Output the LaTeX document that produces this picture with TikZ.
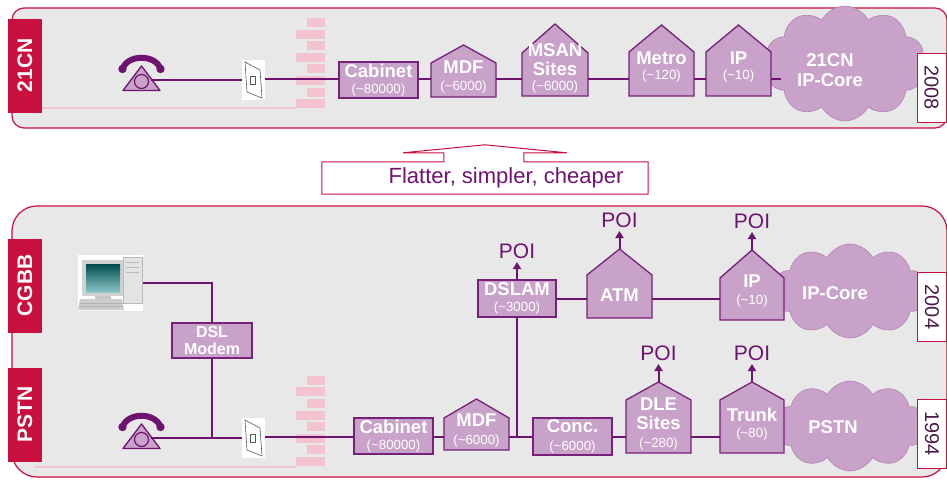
\documentclass[tikz,border=0pt]{standalone}
\usepackage{fontspec}
\setmainfont{Liberation Sans}
\usetikzlibrary{arrows.meta,positioning,calc,shapes.symbols}
\definecolor{crimson}{HTML}{C8103E}
\definecolor{panelgray}{HTML}{E8E8E8}
\definecolor{lilac}{HTML}{C8A2C8}
\definecolor{plum}{HTML}{76207A}
\definecolor{wireplum}{HTML}{6E1470}
\definecolor{brick}{HTML}{F3C3CF}
\definecolor{yearink}{HTML}{4A1A4A}
\tikzset{
  panel/.style={draw=crimson, line width=1.2pt, fill=panelgray},
  era/.style={fill=crimson, text=white, rotate=90, inner sep=0pt,
    minimum width=94pt, minimum height=34pt, font=\fontsize{21}{21}\selectfont\bfseries},
  year/.style={draw=crimson, fill=white, line width=1pt, rotate=-90, inner sep=0pt,
    minimum width=69pt, minimum height=29pt, text=yearink, font=\fontsize{20}{20}\selectfont},
  box/.style={draw=plum, fill=lilac, line width=1.3pt, text=white, align=center,
    inner sep=0pt, outer sep=0pt, font=\fontsize{18.5}{19}\selectfont\bfseries},
  body/.style={inner sep=0pt, outer sep=0pt},
  shell/.style={draw=plum, fill=lilac, line width=1.3pt},
  tag/.style={text=white, align=center, inner sep=0pt,
    font=\fontsize{18.5}{19}\selectfont\bfseries},
  core/.style={cloud, cloud puffs=10, cloud puff arc=125, fill=lilac,
    draw=lilac!75!plum, line width=0.6pt, inner sep=0pt},
  wire/.style={draw=wireplum, line width=1.5pt},
  poi/.style={-{Triangle[length=7pt,width=8pt]}, draw=wireplum, line width=2pt},
  poitext/.style={text=wireplum, inner sep=0pt, font=\fontsize{21}{21}\selectfont},
  seam/.style={draw=brick, line width=1.5pt},
  jack/.style={fill=white, minimum width=23pt, minimum height=40pt, inner sep=0pt,
    path picture={
      \draw[gray!70!black, line width=0.6pt]
        ([shift={(3pt,-2pt)}]path picture bounding box.north west)
        -- ([shift={(-5pt,-10pt)}]path picture bounding box.north east)
        -- ([shift={(-3pt,2pt)}]path picture bounding box.south east)
        -- ([shift={(5pt,8pt)}]path picture bounding box.south west) -- cycle;
      \draw[gray!70!black, line width=0.5pt]
        ([shift={(-3pt,-4pt)}]path picture bounding box.center)
        rectangle ([shift={(2pt,4pt)}]path picture bounding box.center);
    }},
  phone/.pic={
    \draw[wireplum, line width=6pt, line cap=round]
      (-19,13) .. controls (-14,-2) and (14,-2) .. (19,13);
    \fill[wireplum] (-19,13) circle[radius=4.2pt] (19,13) circle[radius=4.2pt];
    \filldraw[fill=lilac, draw=wireplum, line width=1.3pt, line join=round]
      (0,10) -- (18.5,34.5) -- (-18.5,34.5) -- cycle;
    \draw[wireplum, line width=1.2pt] (0,25.5) circle[radius=7pt];
    \coordinate (-out) at (9,24);
  },
  wall/.pic={
    \foreach \r in {0,...,7}{
      \ifodd\r \fill[brick] (0,\r*11.6) rectangle (29,\r*11.6+9);
      \else \fill[brick] (11,\r*11.6) rectangle (29,\r*11.6+9); \fi
    }
  },
  desktop/.pic={
    \fill[white] (0,0) rectangle (65,56);
    \fill[gray!22] (45,2) rectangle (64,48);
    \draw[gray!55, line width=0.4pt] (45,2) rectangle (64,48)
      (48,7) -- (61,7) (48,12) -- (61,12) (48,17) -- (61,17);
    \fill[gray!35] (4,5) rectangle (45,41);
    \shade[top color=teal!60!black, bottom color=teal!45!white] (8,9) rectangle (42,37);
    \fill[gray!45] (17,41) rectangle (33,45);
    \fill[gray!40] (2,44) -- (44,44) -- (46,55) -- (0,55) -- cycle;
    \draw[gray!60, line width=0.3pt] (2,48) -- (45,48) (1,51) -- (45,51);
  },
}
\newcommand{\tally}[1]{{\fontsize{13.3}{14}\selectfont\mdseries(\textasciitilde#1)}}
% name, body centre, width, height, roof, text lift, text
\newcommand{\house}[7]{%
  \node[body, minimum width=#3pt, minimum height=#4pt] (#1) at (#2) {};
  \coordinate (#1-peak) at ([yshift=#5pt]#1.north);
  \draw[shell] (#1.south west) -- (#1.north west) -- (#1-peak)
    -- (#1.north east) -- (#1.south east) -- cycle;
  \node[tag] (#1-tag) at ([yshift=#6pt]#1.center) {#7};
}

\begin{document}
\begin{tikzpicture}[x=1pt, y=-1pt]
  \useasboundingbox (0,0) rectangle (947,479);

  % the two network panels
  \draw[panel, rounded corners=12pt] (12,8) rectangle (947,128);
  \draw[panel, rounded corners=25pt] (12,206) rectangle (947,477);
  \draw[seam] (42,108) -- (296,108);
  \draw[seam] (35,467) -- (296,467);
  \pic at (296,18) {wall};
  \pic at (296,375.7) {wall};

  \node[era] (lab21) at (25,65.5) {21CN};
  \node[era] (labcgbb) at (25,285.5) {CGBB};
  \node[era] (labpstn) at (25,414.5) {PSTN};

  % 21CN
  \pic (ph1) at (141.5,56) {phone};
  \node[jack] (jack1) at (253.5,80) {};
  \node[box, minimum width=79pt, minimum height=36pt] (cab1) at (378.5,80)
    {Cabinet\\[-3pt]\tally{80000}};
  \node[core, minimum width=160pt, minimum height=115pt] (core1) at (845,63.5) {};
  \node[tag] (core1-tag) at ([shift={(-15pt,-6.5pt)}]core1.center) {21CN\\[1pt]IP-Core};
  \house{mdf1}{463.5,80}{65}{34}{18}{3}{MDF\\[-2pt]\tally{6000}}
  \house{msan}{555,74.5}{66}{43}{29}{6.5}{MSAN\\Sites\\[-4pt]\tally{6000}}
  \house{metro}{661.5,74}{65}{44}{27}{7}{Metro\\[-4pt]\tally{120}}
  \house{ip1}{738.5,74}{65}{44}{27}{7}{IP\\[-4pt]\tally{10}}
  \node[year] (yr08) at (931.5,87.5) {2008};

  \coordinate (row1) at (0,79);
  \coordinate (spur) at (781,79);
  \draw[wire] (ph1-out) -- (jack1.west |- ph1-out);
  \draw[wire] (jack1.east |- row1) -- (cab1.west |- row1);
  \foreach \a/\b in {cab1/mdf1, mdf1/msan, msan/metro, metro/ip1}
    \draw[wire] (\a.east |- row1) -- (\b.west |- row1);
  \draw[wire] (ip1.east |- row1) -- (spur);

  % flatter, simpler, cheaper
  \node[text=wireplum, font=\fontsize{22}{22}\selectfont, inner sep=0pt,
    minimum width=326pt, minimum height=32pt] (gain) at (485,178)
    {\hspace*{42pt}Flatter, simpler, cheaper};
  \draw[crimson, line width=1pt] (gain.north west) -- ++(122,0) -- ++(0,-9)
    -- ++(-41,0) -- ++(82,-8) -- ++(82,8) -- ++(-43,0) -- ++(0,9)
    -| (gain.south east) -| (gain.north west);

  % CGBB and PSTN
  \pic at (78,255) {desktop};
  \node[body, minimum width=65pt, minimum height=56pt] (pc) at (110.5,283) {};
  \node[box, minimum width=80pt, minimum height=35pt,
    font=\fontsize{16}{17}\selectfont\bfseries] (modem) at (212,340.5) {DSL\\Modem};
  \pic (ph2) at (141.5,414) {phone};
  \node[jack] (jack2) at (253.5,438) {};
  \node[box, minimum width=79pt, minimum height=36pt] (cab2) at (393.5,436)
    {Cabinet\\[-3pt]\tally{80000}};
  \node[box, minimum width=79pt, minimum height=37pt] (conc) at (572.5,436.5)
    {Conc.\\[-1pt]\tally{6000}};
  \node[box, minimum width=78pt, minimum height=37pt] (dslam) at (517,298.5)
    {DSLAM\\[-3pt]\tally{3000}};
  \coordinate (dslam-peak) at (dslam.north);
  \node[core, minimum width=154pt, minimum height=94pt] (core2) at (850,291) {};
  \node[tag] (core2-tag) at ([shift={(-15pt,-2pt)}]core2.center) {IP-Core};
  \node[core, minimum width=151pt, minimum height=90pt] (core3) at (850,426) {};
  \node[tag] (core3-tag) at ([shift={(-17pt,-1pt)}]core3.center) {PSTN};
  \house{mdf2}{476.5,434}{65}{32}{19}{3}{MDF\\[-1pt]\tally{6000}}
  \house{atm}{619.5,296.5}{65}{43}{26}{1.5}{ATM}
  \house{ip2}{752,299}{64}{42}{28}{8}{IP\\[-2pt]\tally{10}}
  \house{dle}{658.5,426.5}{65}{53}{18}{2.5}{DLE\\Sites\\[-1pt]\tally{280}}
  \house{trunk}{752,426.5}{64}{53}{18}{2.5}{Trunk\\[-3pt]\tally{80}}
  \node[year] (yr04) at (932,307) {2004};
  \node[year] (yr94) at (932,433.5) {1994};

  \coordinate (row2) at (0,299);
  \coordinate (row3) at (0,437);
  \draw[wire] (pc.east) -| (modem.north);
  \draw[wire] (modem.south) -- (modem.south |- row3);
  \draw[wire] (ph2-out) -- (jack2.west |- ph2-out);
  \foreach \a/\b in {jack2/cab2, cab2/mdf2, mdf2/conc, conc/dle, dle/trunk}
    \draw[wire] (\a.east |- row3) -- (\b.west |- row3);
  \foreach \a/\b in {dslam/atm, atm/ip2}
    \draw[wire] (\a.east |- row2) -- (\b.west |- row2);
  \draw[wire] (dslam.south) -- (dslam.south |- row3);

  % points of interconnect
  \foreach \n in {dslam, atm, ip2, dle, trunk}{
    \draw[poi] (\n-peak) -- ++(0,-18) coordinate (\n-tip);
    \node[poitext, above=3pt of \n-tip] (\n-poi) {POI};
  }
\end{tikzpicture}
\end{document}
